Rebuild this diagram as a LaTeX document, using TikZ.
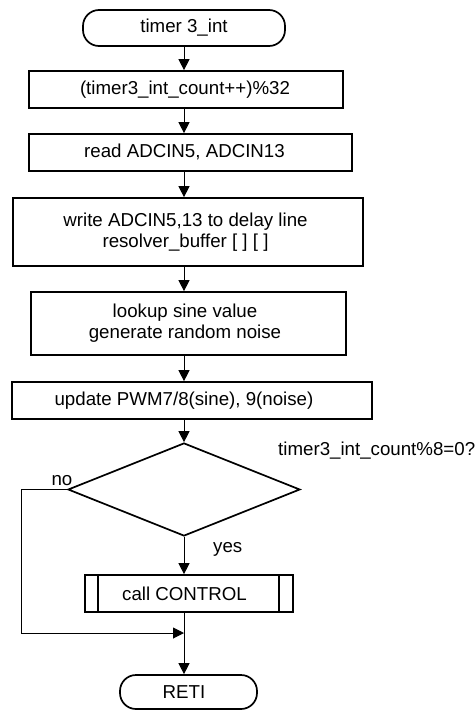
\documentclass[tikz,border=0pt]{standalone}
\usepackage{fontspec}
\setmainfont{Liberation Sans}
\usetikzlibrary{arrows.meta,shapes.geometric}
\begin{document}
\begin{tikzpicture}[x=1pt,y=-1pt,
  every node/.style={font=\fontsize{18.7}{21}\selectfont},
  box/.style={draw, line width=1.7pt, inner sep=0pt},
  term/.style={box, rounded corners=16pt},
  txt/.style={inner sep=0pt, align=center},
  lbl/.style={inner sep=0pt},
  arr/.style={line width=1pt, -{Triangle[length=11pt,width=11pt]}},
  dec/.style={draw, diamond, line width=1.7pt, inner sep=0pt}]
\useasboundingbox (0,0) rectangle (475,710);
\coordinate (col) at (184,0);
% nodes
\node[term, minimum width=202pt, minimum height=36pt] (start) at (184,28) {timer 3\_int};
\node[box, minimum width=314pt, minimum height=37pt] (b1) at (186,89.5) {};
\node[txt] (t1) at (185,89.5) {(timer3\_int\_count++)\%32};
\node[box, minimum width=323pt, minimum height=37pt] (b2) at (190.5,152.5) {};
\node[txt] (t2) at (184.5,152) {read ADCIN5, ADCIN13};
\node[box, minimum width=350pt, minimum height=68pt] (b3) at (188,232) {};
\node[txt] (t3) at (185.5,232) {write ADCIN5,13 to delay line\\resolver\_buffer [ ] [ ]};
\node[box, minimum width=315pt, minimum height=63pt] (b4) at (188.5,323.5) {};
\node[txt] (t4) at (185,323) {lookup sine value\\generate random noise};
\node[box, minimum width=360pt, minimum height=37pt] (b5) at (192,400.5) {};
\node[txt] (t5) at (184,401) {update PWM7/8(sine), 9(noise)};
\node[dec, minimum width=232pt, minimum height=93pt] (d) at (184,489.5) {};
\node[lbl, anchor=base west] (q) at (278,455) {timer3\_int\_count\%8=0?};
\node[lbl, anchor=base] (no) at (62,485) {no};
\node[lbl, anchor=base west] (yes) at (213,552) {yes};
\node[box, minimum width=208pt, minimum height=37pt] (call) at (189,593.5) {};
\node[txt] (t6) at (184.5,593.5) {call CONTROL};
\draw[line width=1.7pt] ([xshift=14pt]call.north west) -- ([xshift=14pt]call.south west);
\draw[line width=1.7pt] ([xshift=-15pt]call.north east) -- ([xshift=-15pt]call.south east);
\node[term, minimum width=137pt, minimum height=34pt] (reti) at (188.5,692) {};
\node[txt] (t7) at (184,692) {RETI};
\coordinate (j) at (184,633);
% connectors
\draw[arr] (start.south) -- (col |- b1.north);
\draw[arr] (col |- b1.south) -- (col |- b2.north);
\draw[arr] (col |- b2.south) -- (col |- b3.north);
\draw[arr] (col |- b3.south) -- (col |- b4.north);
\draw[arr] (col |- b4.south) -- (col |- b5.north);
\draw[arr] (col |- b5.south) -- (d.north);
\draw[arr] (d.south) -- (col |- call.north);
\draw[arr] (col |- call.south) -- (col |- reti.north);
\draw[arr] (d.west) -- ++(-46,0) |- (j);
\end{tikzpicture}
\end{document}
